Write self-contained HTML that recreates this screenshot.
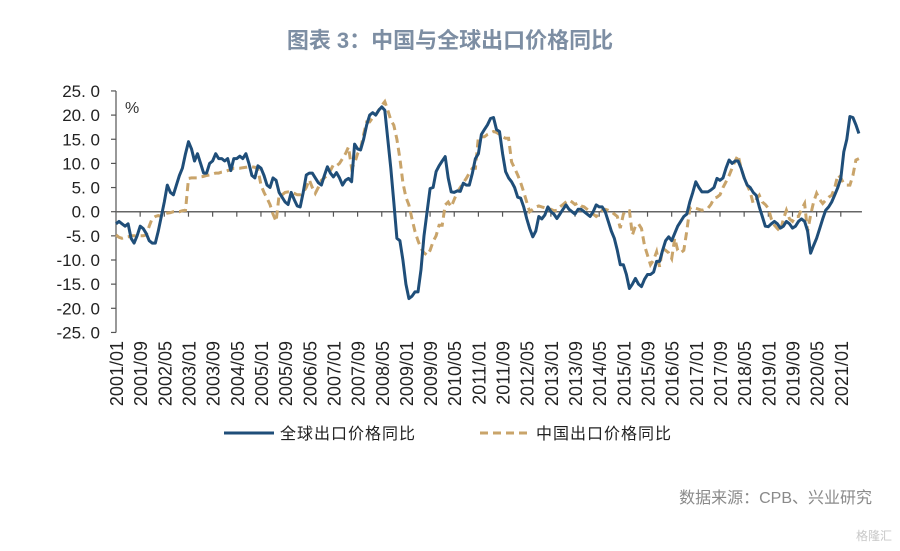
<!DOCTYPE html>
<html><head><meta charset="utf-8"><style>
body{margin:0;background:#fff;}
svg{display:block;font-family:"Liberation Sans","Noto Sans CJK SC",sans-serif;}
</style></head><body>
<svg id="chart" width="900" height="551" viewBox="0 0 900 551">
<text x="450" y="48" text-anchor="middle" font-size="22" font-weight="bold" fill="#7d8ea3">图表 3：中国与全球出口价格同比</text>
<text x="125" y="113" font-size="16" fill="#333">%</text>
<g id="yaxis"></g>
<g id="xaxis"></g>
<g id="series"></g>
<g>
<line x1="224" y1="433" x2="274" y2="433" stroke="#1f4e79" stroke-width="3"/>
<text x="280" y="439" font-size="16" letter-spacing="1" fill="#222">全球出口价格同比</text>
<line x1="480" y1="433" x2="530" y2="433" stroke="#c9a46a" stroke-width="3" stroke-dasharray="8,5"/>
<text x="536" y="439" font-size="16" letter-spacing="1" fill="#222">中国出口价格同比</text>
</g>
<text x="872" y="503" text-anchor="end" font-size="16" fill="#8a8a8a">数据来源：CPB、兴业研究</text>
<text x="892" y="540" text-anchor="end" font-size="12" fill="#c8c8c8">格隆汇</text>
</svg>
<script>
const yTicks=[25,20,15,10,5,0,-5,-10,-15,-20,-25];
const xLabels=["2001/01","2001/09","2002/05","2003/01","2003/09","2004/05","2005/01","2005/09","2006/05","2007/01","2007/09","2008/05","2009/01","2009/09","2010/05","2011/01","2011/09","2012/05","2013/01","2013/09","2014/05","2015/01","2015/09","2016/05","2017/01","2017/09","2018/05","2019/01","2019/09","2020/05","2021/01"];
const globalExport=[-2.5,-2,-2.5,-3,-2.5,-5.5,-6.5,-5,-3,-3.5,-4.5,-6,
-6.5,-6.5,-4,-1,2,5.5,4,3.5,5.5,7.5,9,12,
14.5,13,10.5,12,10,8,8,10,10.5,12,11,11,
10.5,11,8.5,11,11,11.5,11,12,10,7.5,7,9.5,
9,7.5,5.5,5,7,6.5,4,3,2,1.5,4,2.5,
1.2,1,4,7.6,8,8,7,6,5.5,7.5,9.3,8,
7.2,8.1,7,5.5,6.5,6.9,6.2,14,13,12.8,15,18,
20,20.5,20,21,21.7,21,15,9,2,-5.5,-6,-10,
-15,-18,-17.5,-16.6,-16.6,-12,-5,0,4.8,5,8.3,9.5,
10.5,11.4,7,4.1,4,4.3,4.2,5.9,5.5,5.5,8,11,
12,16,17,18,19.3,19.5,17,16.6,12,8.3,7,6.2,
5,3,2.8,1,-1.4,-3.5,-5.2,-4,-1,-1.5,-0.7,1,
0,-0.5,-1.4,-0.5,0.5,1.4,0.5,0,-0.5,0.5,0.5,0,
-0.5,-1,0,1.4,1,1,0,-2,-4,-5.5,-8,-11,
-11,-13,-15.9,-15,-13.8,-15,-15.5,-14,-13,-13,-12.5,-10.3,
-10.3,-8,-6,-5.2,-6,-4.5,-3,-2,-1,-0.5,2,4,
6.2,5,4.1,4.1,4.1,4.5,5,6.9,6.5,7,9,10.7,
10,10.5,10.5,9,7,5.5,5,4,3.4,1,-1,-3,
-3.1,-2.5,-2,-2.5,-3.4,-3,-2,-2.5,-3.4,-3,-2,-1.5,
-2,-4,-8.6,-7,-5.5,-3.5,-1.5,0.3,1,2,3.5,5,
6.9,12.4,15,19.7,19.5,18,16.2];
const chinaExport=[-4.8,-5.3,-5.5,-5.3,-5.2,-5,-5,-5,-5,-5,-4.8,-3,
-1.4,-1,-0.8,-1,-0.5,-0.3,-0.2,0,0,0,0.2,0.3,
6.9,7,7,7,7.2,7.3,7.5,7.6,7.8,8,8,8.2,
8.3,8.5,8.7,9,9,9,9.1,9.2,9.3,9.3,9.2,8.8,
5.5,4,2.8,1.5,-0.5,-2,3.4,3.5,4,4.1,4,3.8,
3.5,3.5,4,5,6.6,5,3.8,5,6.5,7,7.6,8.5,
9.7,9.5,10,11,12,13.4,9,10,12,13,16,18.6,
18.6,19.5,20,21,22,22.8,21,19,17.9,15,11,6,
3,1.4,-1.5,-4.1,-6,-7.6,-8.5,-9,-8,-6.2,-5,-2.8,
-2.8,1.4,2,1,2.5,4.1,5,6,6.9,8,9,9,
15.5,15.5,15.5,16,16.3,16.6,16.4,16,15.5,15.2,15.2,10.3,
9,7.6,6,4.1,2,0,0.5,1,1.2,1,0.8,0.5,
0.5,0.2,0.3,1,1.5,2,2.4,2,1.5,1.8,1.2,1,
0.5,0,-0.5,-1,-0.5,0.3,0.5,0.3,0,-0.5,-1,-3.4,
-0.5,0.3,0.2,-4.8,-3,-2.5,-3.5,-7,-9,-11,-10,-8.3,
-11.4,-7.6,-8,-8.5,-9.7,-5.5,-8,-8.5,-8,-4,0.7,1,
0.7,0.5,0.3,0.5,0.7,1.5,2.8,3,3.5,5,6.2,7.5,
9,10.5,11.7,9,7,5.5,4.1,1.7,2.5,3.4,2,1.5,
0.7,-1.5,-2.8,-3.5,-4.1,-1.5,0.3,-1.5,-2,-1,-1,0.5,
1.7,-4.1,-0.7,2,3.8,2.5,1.7,2.4,3,3.4,5,7.6,
7,5.8,5.5,5.5,7.5,10.7,11];

const NS="http://www.w3.org/2000/svg";
const X0=116,DX=3.02,Y0=211.7,KY=4.83;
function xScale(i){return X0+DX*i;}
function yScale(v){return Y0-KY*v;}
function mk(tag,attrs,parent){const e=document.createElementNS(NS,tag);for(const k in attrs)e.setAttribute(k,attrs[k]);parent.appendChild(e);return e;}

const ya=document.getElementById('yaxis');
let l=mk('line',{x1:X0,y1:yScale(25),x2:X0,y2:yScale(-25),stroke:'#555','stroke-width':1.2},ya);


yTicks.forEach(v=>{
  const t=mk('line',{x1:X0-5,y1:yScale(v),x2:X0,y2:yScale(v),stroke:'#555','stroke-width':1.2},ya);
  
  
  const tx=mk('text',{x:100,y:yScale(v)+6,'text-anchor':'end','font-size':17,fill:'#222'},ya);
  tx.textContent=v.toFixed(1).replace('.','. ');
  
  
});
const xa=document.getElementById('xaxis');
l=mk('line',{x1:X0,y1:Y0,x2:xScale(247),y2:Y0,stroke:'#666','stroke-width':1.5},xa);


xLabels.forEach((s,k)=>{
  const x=xScale(8*k);
  if(k>0){const t=mk('line',{x1:x,y1:Y0,x2:x,y2:Y0+5,stroke:'#555','stroke-width':1.2},xa);
  
  }
  const tx=mk('text',{x:0,y:0,'text-anchor':'end','font-size':18,fill:'#222',transform:`translate(${x+7},341) rotate(-90)`},xa);
  tx.textContent=s;
  
  
});
const sg=document.getElementById('series');
function pts(arr){return arr.map((v,i)=>xScale(i).toFixed(1)+','+yScale(v).toFixed(1)).join(' ');}
const pc=mk('polyline',{points:pts(chinaExport),fill:'none',stroke:'#c9a46a','stroke-width':3,'stroke-dasharray':'8,5'},sg);


const pg=mk('polyline',{points:pts(globalExport),fill:'none',stroke:'#1f4e79','stroke-width':3,'stroke-linejoin':'round'},sg);


</script>
</body></html>
